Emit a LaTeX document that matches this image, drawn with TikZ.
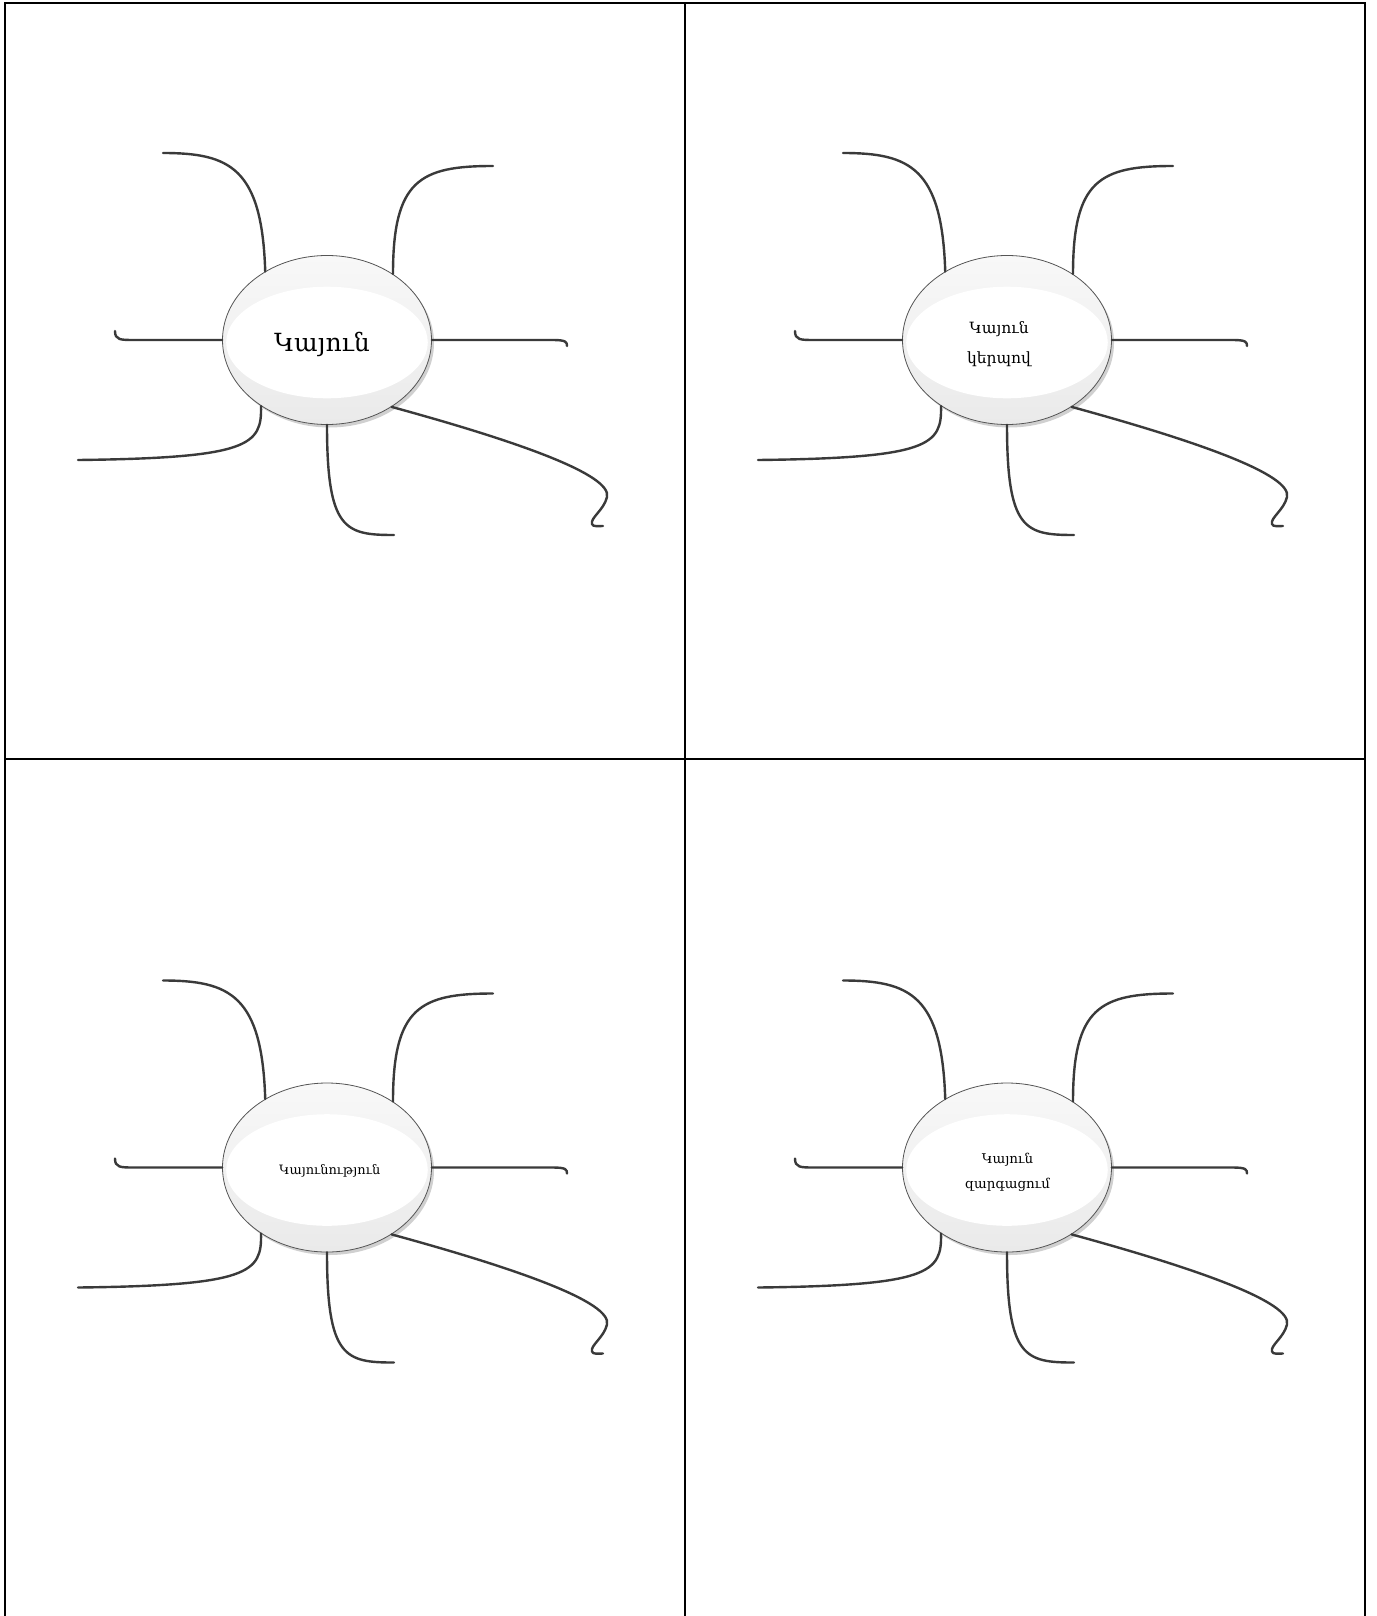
\documentclass[tikz,border=0pt]{standalone}
\usepackage{fontspec}
\setmainfont{DejaVu Serif}
\usetikzlibrary{shapes.geometric}
\definecolor{linegray}{HTML}{3A3A3A}
\definecolor{rimgray}{HTML}{555555}
\definecolor{bubtop}{HTML}{F8F8F8}
\definecolor{bubbot}{HTML}{EAEAEA}
\definecolor{shadowgray}{HTML}{D0D0D0}
\tikzset{
  arm/.style={draw=linegray, line width=2.4pt, line cap=round},
  bubble/.style={ellipse, minimum width=209pt, minimum height=169pt, inner sep=0pt,
    draw=rimgray, line width=0.8pt, top color=bubtop, bottom color=bubbot},
  gridline/.style={line width=2pt, draw=black},
  lbl/.style={inner sep=0pt, text=black, align=center}
}
% #1 x, #2 y, #3 name prefix, #4 label options, #5 label position, #6 label text
\newcommand\mindpanel[6]{%
\begin{scope}[shift={(#1,#2)}]
  \fill[shadowgray] (2.5,-3) ellipse [x radius=104.5pt, y radius=84.5pt];
  \node[bubble] (#3e) at (0,0) {};
  \fill[white] (0,-2.5) ellipse [x radius=100.8pt, y radius=55.8pt];
  \node[lbl, #4] (#3t) at #5 {#6};
  \coordinate (#3a) at (-164,187);
  \coordinate (#3b) at (166,174);
  \coordinate (#3c) at (-212,9);
  \coordinate (#3d) at (240,-6);
  \coordinate (#3f) at (-249,-120);
  \coordinate (#3g) at (67,-195);
  \coordinate (#3h) at (276,-186);
  \draw[arm] (#3a) .. controls (-97,187) and (-65,172) .. (#3e.132.8);
  \draw[arm] (#3b) .. controls (93,174) and (66,160) .. (#3e.45.9);
  \draw[arm] (#3c) .. controls (-212,0) and (-207,0) .. (-192,0) -- (#3e.180);
  \draw[arm] (#3e.0) -- (226,0) .. controls (239,0) and (240,-2) .. (#3d);
  \draw[arm] (#3e.225.9) .. controls (-65,-105) and (-77,-118) .. (#3f);
  \draw[arm] (#3e.270) .. controls (0,-190) and (18,-195) .. (#3g);
  \draw[arm] (#3e.314.6) .. controls (193,-102) and (285,-135) .. (280,-157)
     .. controls (277,-170) and (263,-178) .. (265,-184)
     .. controls (266,-187) and (271,-186) .. (#3h);
\end{scope}}
\begin{document}
\begin{tikzpicture}[x=1pt,y=1pt]
  \useasboundingbox (0,0) rectangle (1376,-1616);
  \fill[white] (0,0) rectangle (1376,-1616);
  % table frame
  \draw[gridline] (4.5,-1616) -- (4.5,-3) -- (1365,-3) -- (1365,-1616);
  \draw[gridline] (685,-3) -- (685,-1616);
  \draw[gridline] (4.5,-759) -- (1365,-759);
  % panels
  \mindpanel{327}{-340}{p}{anchor=base, font=\fontsize{25}{30}\selectfont}{(-5,-11.7)}{Կայուն}
  \mindpanel{1007}{-340}{q}{anchor=center, font=\fontsize{15.5}{30}\selectfont}{(-8,-4)}{Կայուն\\կերպով}
  \mindpanel{327}{-1167.5}{r}{anchor=base, font=\fontsize{12.9}{16}\selectfont}{(2.7,-6.5)}{Կայունություն}
  \mindpanel{1007}{-1167.5}{s}{anchor=center, font=\fontsize{13.4}{25}\selectfont}{(0.5,-4.5)}{Կայուն\\զարգացում}
\end{tikzpicture}
\end{document}
